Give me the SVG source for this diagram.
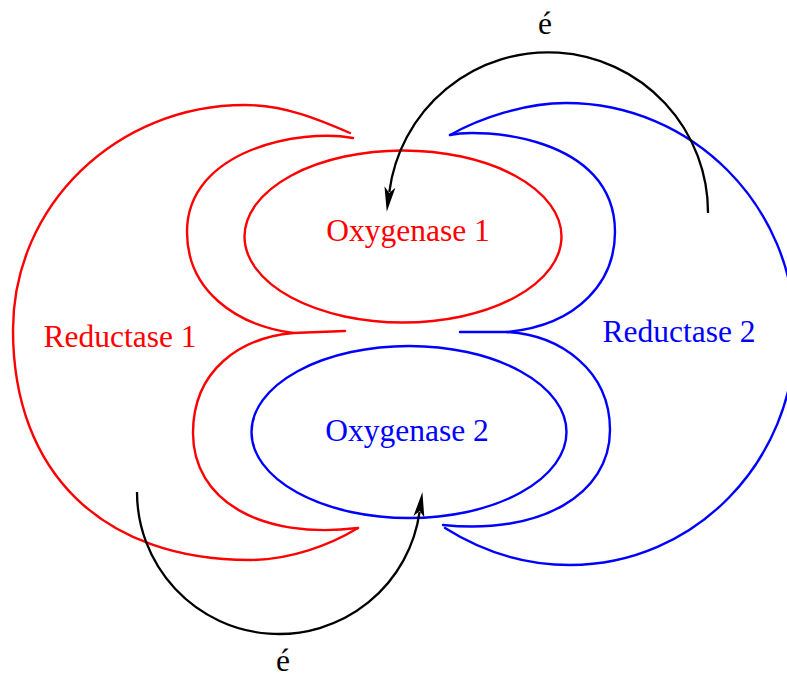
<svg xmlns="http://www.w3.org/2000/svg" width="787" height="679" viewBox="0 0 787 679">
<defs>
<style>
.r{fill:none;stroke:#ff0000;stroke-width:2.4;stroke-linejoin:round;stroke-linecap:round}
.b{fill:none;stroke:#0000ff;stroke-width:2.4;stroke-linejoin:round;stroke-linecap:round}
.k{fill:none;stroke:#000;stroke-width:2.3;marker-end:url(#ah)}
text{font-family:"Liberation Serif","Times New Roman",serif;font-size:31.5px;text-anchor:middle}
.tr{fill:#ff0000}.tb{fill:#0000ff}.tk{fill:#000}
</style>
<marker id="ah" markerUnits="userSpaceOnUse" markerWidth="26" markerHeight="12" viewBox="0 0 26 12" refX="5" refY="6" orient="auto">
<path d="M0,0.5 L25,6 L0,11.5 L6,6 Z" fill="#000"/>
</marker>
</defs>
<g id="reductase1">
<path class="r" d="M350,133 C320,120 285,105 245,105 C117,105 13,205 13,330 C13,473 103,560 250,560 C290,560 330,545 358,528"/>
<path class="r" d="M353,138 C300,128 187,150 187,232 C187,290 235,325 293,333 L345,331"/>
<path class="r" d="M293,333 C240,338 193,370 193,433 C193,500 260,540 358,528"/>
<text class="tr" x="120" y="347">Reductase 1</text>
</g>
<g id="reductase2">
<path class="b" d="M450,135 C480,118 525,103 566,103 C692,103 795,206 795,334 C795,462 694,565 570,565 C520,565 480,550 445,528"/>
<path class="b" d="M450,135 C480,128 615,135 615,232 C615,280 580,325 507,332 L460,332"/>
<path class="b" d="M507,332 C560,335 610,370 610,430 C610,495 540,535 443,525"/>
<text class="tb" x="679" y="342">Reductase 2</text>
</g>
<g id="oxygenase1">
<ellipse class="r" cx="403" cy="236.5" rx="158.5" ry="86"/>
<text class="tr" x="408" y="241">Oxygenase 1</text>
</g>
<g id="oxygenase2">
<ellipse class="b" cx="409" cy="432" rx="157.5" ry="86"/>
<text class="tb" x="407" y="441">Oxygenase 2</text>
</g>
<g id="connectors">
<path class="k" d="M708,213 A160,160 0 0 0 389.3,192"/>
<path class="k" d="M137,492 A142,142 0 0 0 419.6,511.9"/>
<text class="tk" x="545" y="34">é</text>
<text class="tk" x="283" y="671">é</text>
</g>
</svg>
